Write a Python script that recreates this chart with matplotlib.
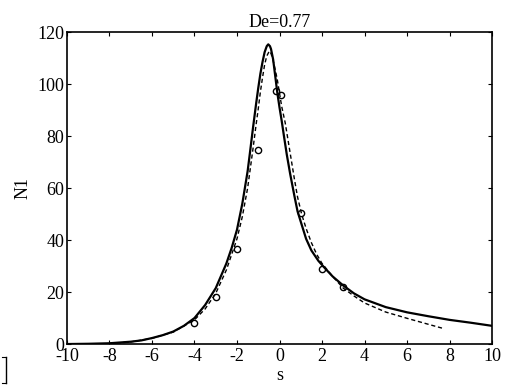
import matplotlib

matplotlib.use("Agg")
import matplotlib.pyplot as plt
from matplotlib.lines import Line2D

plt.rcParams["font.family"] = ["Liberation Serif", "DejaVu Serif"]
plt.rcParams["axes.unicode_minus"] = False

# solid curve (model 1)
s_solid = [-10, -9, -8, -7, -6.5, -6, -5.5, -5, -4.5, -4, -3.5, -3, -2.5, -2.25,
           -2, -1.75, -1.5, -1.4, -1.25, -1.1, -1, -0.9, -0.8, -0.7, -0.6, -0.53,
           -0.45, -0.4, -0.3, -0.2, -0.1, 0, 0.1, 0.2, 0.34, 0.5, 0.7, 0.85, 1.04,
           1.25, 1.5, 1.83, 2.1, 2.5, 3, 3.5, 4, 5, 6, 7, 8, 9, 10]
n_solid = [0, 0.1, 0.3, 0.9, 1.4, 2.3, 3.4, 4.8, 7, 10, 15, 21.5, 31, 37,
           44, 54, 66.5, 73, 83, 92.5, 98.5, 104, 108.5, 112.3, 114.6, 115.3,
           114.6, 113.5, 109.5, 103, 96.5, 91, 86, 80.5, 73, 65.5, 57, 51, 46,
           40.5, 36, 32, 29.5, 26, 22.5, 19.5, 17.2, 14.2, 12.2, 10.7, 9.3, 8.2, 7]

# dashed curve (model 2)
s_dash = [-8, -7, -6, -5, -4, -3.5, -3, -2.5, -2, -1.75, -1.5, -1.25, -1.1, -1,
          -0.9, -0.8, -0.7, -0.6, -0.48, -0.4, -0.3, -0.2, -0.1, 0, 0.1, 0.27,
          0.4, 0.55, 0.7, 0.85, 1.04, 1.25, 1.5, 1.75, 2, 2.5, 3, 3.5, 4,
          5, 6, 7, 7.7]
n_dash = [0.2, 0.8, 2.2, 4.6, 9.3, 13.5, 19.5, 28.5, 40.5, 49, 60, 75, 84.5, 90.5,
          97, 102.5, 107.5, 110.8, 112.7, 111.8, 109, 105.5, 101.5, 96.5, 91.5, 85,
          78.5, 71, 63.5, 56.5, 50, 44.5, 39, 34.5, 31, 26, 21.5, 18.5, 15.8,
          12.3, 9.9, 7.6, 6]

# measured points
s_meas = [-4, -3, -2, -1, -0.15, 0.05, 1, 2, 3]
n_meas = [8, 18, 36.4, 74.6, 97.4, 95.8, 50.6, 28.7, 22]

fig = plt.figure(figsize=(5.11, 3.87), dpi=100)
ax = fig.add_axes([0.131, 0.111, 0.832, 0.806])

ax.plot(s_solid, n_solid, "-", color="black", linewidth=1.6)
ax.plot(s_dash, n_dash, "--", color="black", linewidth=1.0, dashes=(3, 2))
ax.plot(s_meas, n_meas, "o", markersize=4.5, markerfacecolor="none",
        markeredgecolor="black", markeredgewidth=1.0)

ax.set_xlim(-10, 10)
ax.set_ylim(0, 120)
ax.set_xticks(range(-10, 11, 2))
ax.set_yticks(range(0, 121, 20))
ax.tick_params(direction="in", top=True, right=True, length=3, width=0.8,
               labelsize=13)
ax.tick_params(axis="x", pad=3)
ax.tick_params(axis="y", pad=2)
for sp in ax.spines.values():
    sp.set_linewidth(1.2)

ax.set_xlabel("s", fontsize=13, labelpad=1)
ax.set_ylabel("N1", fontsize=13, labelpad=4)
ax.set_title("De=0.77", fontsize=13, pad=4)

# little bracket at the lower left of the scan
fig.add_artist(Line2D([0.012, 0.012], [0.01, 0.078], color="black", linewidth=1.0))
fig.add_artist(Line2D([0.004, 0.012], [0.078, 0.078], color="black", linewidth=0.8))
fig.add_artist(Line2D([0.004, 0.012], [0.01, 0.01], color="black", linewidth=0.8))

fig.savefig("out.png", dpi=100)
